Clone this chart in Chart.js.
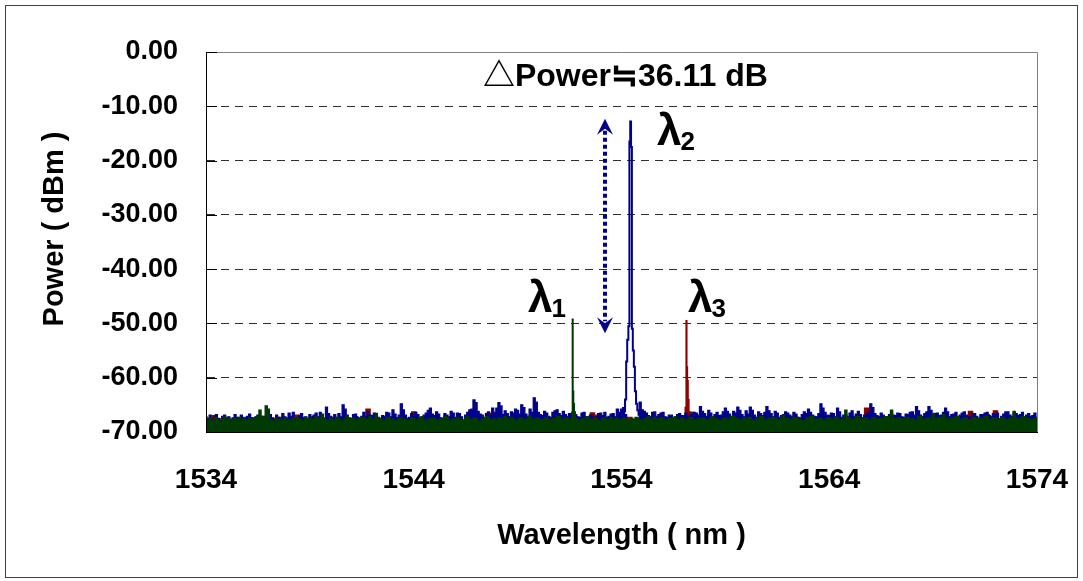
<!DOCTYPE html>
<html><head><meta charset="utf-8">
<script src="https://cdn.jsdelivr.net/npm/chart.js@4/dist/chart.umd.min.js"></script>
<style>html,body{margin:0;padding:0;background:#fff;}#wrap{width:1083px;height:581px;}</style>
</head><body><div id="wrap"><canvas id="c" width="1083" height="581"></canvas></div>
<script>
// ---- data ----
const wlStart = 1534;
const fineStep = 0.1;     // blue & green traces: 1534.0 ... 1574.0 nm
const coarseStep = 0.2;   // red trace: 1534.0 ... 1574.0 nm
const xTicks = [1534, 1544, 1554, 1564, 1574];
const yTicks = [0, -10, -20, -30, -40, -50, -60, -70];
const xTitle = 'Wavelength ( nm )';
const yTitle = 'Power ( dBm )';

const blueNoise = [
-67.2,-67.6,-66.9,-67.8,-67.3,-66.8,-67.5,-68.0,-67.1,-66.9,-67.6,-67.2,-68.1,-67.4,-66.8,-67.3,-67.7,-66.9,-67.5,-67.9,
-67.1,-66.7,-67.4,-68.0,-67.2,-66.9,-67.8,-67.3,-68.2,-67.0,-67.5,-66.8,-67.4,-67.9,-66.9,-67.3,-67.6,-66.6,-67.2,-67.8,
-66.5,-67.1,-66.4,-67.6,-67.9,-67.0,-66.6,-67.3,-67.2,-68.0,-66.8,-67.4,-66.9,-66.5,-67.2,-66.4,-67.5,-67.8,-65.4,-66.6,
-67.1,-67.5,-66.8,-67.9,-66.6,-67.2,-65.0,-65.8,-66.9,-67.4,-67.5,-66.8,-66.7,-67.3,-67.9,-67.1,-66.4,-67.2,-66.3,-66.9,
-67.0,-66.5,-66.6,-67.3,-67.8,-67.0,-67.1,-66.4,-66.5,-67.2,-65.9,-66.7,-67.4,-66.9,-64.8,-65.9,-66.9,-67.5,-67.3,-66.6,
-67.2,-66.4,-66.8,-67.5,-67.6,-66.9,-66.5,-66.0,-65.6,-66.7,-67.0,-66.3,-66.7,-67.4,-67.5,-66.6,-66.9,-67.3,-66.2,-66.5,
-67.3,-66.5,-66.6,-67.2,-67.8,-66.9,-66.4,-65.9,-65.8,-64.1,-64.6,-66.2,-66.7,-66.9,-67.4,-66.6,-66.3,-67.0,-65.6,-66.4,
-65.6,-64.6,-65.2,-66.8,-66.1,-66.6,-67.2,-66.3,-66.5,-65.8,-66.0,-66.7,-65.0,-65.5,-66.7,-67.1,-65.8,-66.4,-63.7,-64.5,
-66.4,-66.8,-67.0,-66.2,-66.5,-67.1,-67.3,-66.4,-66.1,-65.9,-66.6,-67.0,-66.2,-66.8,-67.1,-66.6,-67.5,-66.9,-66.8,-67.2,
-67.3,-66.5,-66.4,-67.2,-67.6,-66.9,-66.9,-67.4,-67.2,-66.6,-66.5,-67.0,-66.4,-67.3,-67.1,-66.7,-66.6,-67.2,-65.8,-66.4,
-65.8,-65.5,-66.8,-68.4,-68.6,-68.5,-68.7,-68.4,-67.9,-64.5,-65.9,-66.2,-66.5,-67.0,-67.2,-66.4,-66.3,-67.1,-66.8,-66.5,
-66.4,-67.2,-67.3,-66.9,-66.9,-67.5,-67.6,-66.8,-66.6,-67.0,-67.1,-66.5,-67.4,-66.9,-66.8,-66.4,-66.5,-66.9,-65.3,-66.2,
-66.6,-67.1,-66.0,-66.5,-67.2,-66.8,-66.4,-67.0,-66.9,-66.3,-65.6,-66.2,-66.7,-67.1,-66.2,-66.5,-65.4,-66.0,-66.8,-67.2,
-66.1,-66.7,-65.4,-66.0,-66.9,-67.3,-66.3,-66.6,-67.0,-66.4,-65.3,-66.1,-66.6,-67.2,-66.2,-66.5,-67.3,-67.0,-66.8,-66.3,
-66.5,-66.9,-67.1,-66.4,-66.7,-67.3,-67.4,-66.8,-66.3,-66.6,-65.8,-66.4,-66.9,-67.1,-67.2,-66.6,-64.8,-65.6,-66.4,-66.9,
-67.0,-66.5,-66.6,-67.2,-65.6,-66.3,-67.3,-66.9,-66.8,-67.2,-66.5,-66.1,-67.1,-66.7,-66.2,-66.8,-67.4,-66.9,-66.7,-66.3,
-64.8,-65.5,-66.6,-67.0,-67.2,-66.5,-66.9,-67.3,-67.5,-66.8,-66.4,-66.9,-67.0,-66.5,-66.6,-67.2,-67.3,-66.7,-66.8,-66.4,
-66.3,-66.9,-65.3,-66.1,-66.9,-67.2,-66.6,-66.3,-65.3,-66.0,-67.1,-66.6,-66.5,-67.0,-66.9,-66.4,-65.6,-66.3,-67.2,-66.8,
-66.7,-66.4,-67.4,-66.9,-66.5,-66.3,-66.9,-67.2,-67.3,-66.6,-66.6,-67.1,-67.5,-66.8,-66.8,-66.5,-66.4,-67.0,-67.1,-66.6,
-66.9,-66.5,-67.6,-67.1,-66.7,-66.3,-66.3,-66.9,-67.2,-66.5,-66.6,-67.0,-66.8,-66.4,-67.4,-66.9,-66.6,-67.1,-67.0,-66.5,
-67.3
];

const greenNoise = [
-67.6,-67.9,-67.4,-68.1,-67.5,-67.3,-67.8,-68.0,-67.6,-67.2,-67.9,-67.5,-68.2,-67.7,-67.4,-67.8,-67.3,-68.0,-67.6,-67.9,
-67.8,-67.4,-67.6,-68.1,-67.5,-67.2,-66.0,-67.1,-67.3,-65.2,-65.8,-67.7,-67.9,-68.0,-67.5,-67.8,-67.6,-67.9,-67.4,-68.1,
-67.7,-68.0,-67.5,-67.9,-67.4,-67.6,-67.8,-68.1,-67.3,-67.7,-67.5,-67.9,-67.6,-67.2,-67.8,-67.4,-66.7,-67.5,-67.9,-68.0,
-67.4,-67.7,-67.8,-67.3,-67.5,-67.9,-68.0,-67.6,-67.2,-67.8,-67.6,-67.4,-67.7,-68.1,-67.4,-67.5,-67.3,-67.8,-67.6,-67.2,
-67.8,-67.5,-66.6,-67.4,-67.5,-67.9,-67.8,-67.3,-67.3,-67.6,-67.7,-68.0,-68.0,-67.5,-67.4,-67.7,-67.6,-67.9,-67.9,-67.4,
-67.5,-67.9,-67.8,-67.3,-67.2,-67.7,-68.1,-67.6,-67.6,-67.4,-67.4,-67.8,-67.9,-67.5,-67.7,-67.2,-67.3,-67.8,-68.0,-67.6,
-67.6,-67.3,-67.5,-67.9,-67.9,-67.4,-67.2,-67.7,-67.8,-67.5,-67.4,-67.9,-68.1,-67.6,-67.6,-67.2,-67.3,-67.8,-67.7,-67.5,
-67.9,-67.4,-67.5,-67.8,-67.2,-67.6,-67.8,-67.3,-67.6,-67.9,-68.0,-67.5,-67.4,-67.7,-67.7,-67.3,-67.1,-67.6,-67.9,-67.4,
-67.5,-67.8,-67.8,-67.4,-67.3,-67.7,-67.9,-67.5,-67.6,-67.2,-67.2,-67.7,-67.8,-67.4,-67.5,-67.9,-67.7,-67.3,-67.4,-67.8,
-67.9,-67.6,-67.5,-67.3,-67.2,-67.7,-67.8,-67.4,-67.6,-67.9,-68.0,-67.5,-67.4,-67.8,-67.7,-67.3,-67.9,-67.6,-67.5,-67.8,
-67.8,-67.4,-67.6,-67.9,-68.1,-67.5,-67.7,-67.3,-67.4,-67.8,-67.9,-67.6,-67.5,-67.2,-67.8,-67.5,-67.3,-67.7,-67.6,-67.4,
-67.4,-67.8,-67.9,-67.5,-67.6,-67.3,-67.2,-67.7,-67.8,-67.4,-67.5,-67.9,-67.7,-67.3,-67.3,-67.8,-67.9,-67.5,-67.6,-67.4,
-67.5,-67.8,-67.8,-67.3,-67.2,-67.6,-67.6,-67.9,-67.9,-67.5,-67.4,-67.7,-67.7,-67.2,-67.1,-67.5,-67.5,-67.9,-67.8,-67.4,
-67.6,-67.3,-67.3,-67.8,-67.9,-67.5,-67.5,-67.2,-67.2,-67.7,-67.7,-67.4,-67.6,-67.3,-67.4,-67.8,-67.8,-67.4,-66.9,-67.5,
-67.5,-67.8,-67.7,-67.3,-67.3,-67.6,-67.6,-67.9,-67.9,-67.4,-67.4,-67.2,-67.2,-67.7,-67.7,-67.5,-67.5,-67.8,-67.8,-67.4,
-67.4,-67.6,-67.6,-67.3,-67.3,-67.8,-67.8,-67.5,-66.0,-67.3,-67.5,-67.7,-67.7,-67.2,-67.2,-67.6,-67.6,-67.4,-67.4,-67.8,
-67.8,-67.3,-67.3,-67.6,-67.6,-67.5,-67.5,-67.2,-67.2,-67.6,-66.0,-67.4,-67.7,-67.4,-67.4,-67.6,-67.6,-67.3,-67.3,-67.7,
-67.5,-67.8,-67.8,-67.2,-67.2,-67.6,-67.6,-67.4,-67.4,-67.8,-66.6,-67.5,-67.7,-67.3,-67.3,-66.8,-67.5,-67.6,-67.8,-67.4,
-67.6,-67.2,-67.2,-67.7,-67.7,-67.4,-67.4,-67.8,-67.8,-67.3,-67.3,-67.5,-67.5,-67.6,-67.6,-67.1,-67.1,-67.7,-67.7,-67.4,
-67.4,-67.6,-67.6,-67.3,-67.3,-67.8,-67.8,-67.5,-67.5,-66.2,-67.4,-67.6,-67.6,-67.2,-67.2,-67.5,-67.5,-67.7,-67.7,-67.5,
-67.4
];

const redNoise = [
-67.5,-67.8,-67.0,-67.6,-67.9,-67.4,-67.7,-68.0,-67.6,-67.3,
-67.8,-67.4,-67.9,-67.6,-67.2,-67.8,-67.5,-68.0,-67.3,-67.7,
-67.4,-67.9,-66.9,-67.6,-67.8,-67.5,-67.2,-67.9,-67.6,-67.4,
-67.8,-67.3,-67.7,-67.9,-67.5,-67.6,-67.2,-67.8,-67.4,-65.8,
-67.7,-67.5,-67.9,-67.3,-67.6,-67.8,-67.4,-67.7,-67.5,-67.9,
-66.3,-67.6,-67.3,-67.8,-67.5,-67.7,-67.4,-67.9,-67.6,-67.2,
-67.7,-67.5,-67.8,-67.4,-67.6,-67.3,-67.9,-67.5,-66.6,-67.7,
-67.6,-67.4,-67.8,-67.5,-67.7,-67.3,-67.9,-67.6,-67.4,-67.8,
-67.5,-67.7,-67.3,-67.9,-67.6,-67.4,-67.8,-67.5,-67.7,-67.3,
-67.6,-67.9,-67.4,-66.5,-66.9,-67.7,-67.3,-67.6,-67.8,-67.5,
-67.4,-67.7,-67.3,-67.9,-67.6,-66.6,-67.5,-67.8,-67.4,-67.7,
-67.3,-67.6,-67.8,-67.4,-67.0,-67.0,-67.2,-66.4,-67.5,-67.8,
-67.6,-67.3,-67.7,-67.5,-67.9,-67.4,-67.6,-67.8,-67.3,-67.7,
-67.5,-67.8,-67.4,-67.6,-67.9,-67.3,-67.7,-67.5,-67.8,-67.4,
-67.6,-67.9,-67.3,-67.7,-67.5,-67.8,-67.4,-67.6,-67.9,-67.5,
-67.7,-67.4,-67.8,-67.6,-67.3,-67.7,-67.5,-67.9,-67.4,-65.6,
-67.6,-67.8,-67.3,-67.7,-67.5,-67.9,-67.4,-67.6,-67.8,-67.3,
-67.7,-67.5,-67.8,-67.4,-67.6,-67.9,-67.3,-67.7,-67.5,-67.8,
-67.4,-67.6,-67.9,-67.3,-66.2,-67.7,-67.5,-67.8,-66.8,-67.6,
-66.1,-67.7,-67.4,-67.8,-67.5,-67.9,-67.3,-67.6,-67.8,-67.4,
-67.6
];

// laser lines [wavelength nm, power dBm]
const greenPeak = [[1551.58,-67.6],[1551.62,-66.4],[1551.65,-49.2],[1551.68,-62.5],[1551.71,-64.8],[1551.75,-66.3],[1551.80,-67.5]];
const bluePeak = [[1554.14,-66.2],[1554.20,-64.0],[1554.25,-57.0],[1554.30,-53.0],[1554.36,-50.5],[1554.40,-16.5],[1554.44,-12.8],[1554.48,-17.5],[1554.52,-51.0],[1554.57,-55.0],[1554.62,-58.0],[1554.67,-62.5],[1554.73,-64.8],[1554.79,-66.0],[1554.85,-66.8]];
const redPeak = [[1557.04,-67.2],[1557.09,-65.5],[1557.13,-49.5],[1557.16,-58.0],[1557.19,-60.5],[1557.22,-64.0],[1557.27,-66.3]];

const annotationText = '△Power≒36.11 dB';
const annotationPos = {wl: 1547.33, db: -6.26};
const lambdaLabels = [
  {sub: '1', wl: 1549.50, db: -47.9},
  {sub: '2', wl: 1555.71, db: -17.1},
  {sub: '3', wl: 1557.20, db: -47.9}
];
const arrowSpan = {wl: 1553.2, top: -12.3, bottom: -51.8};

// ---- build ----
const FONT = "'Liberation Sans', Arial, 'Noto Sans CJK JP', sans-serif";
function toPoints(noise, step) {
  return noise.map((v, i) => ({x: Math.round((wlStart + i * step) * 1000) / 1000, y: v}));
}
function mergePeak(noise, step, peak) {
  const lo = peak[0][0], hi = peak[peak.length - 1][0];
  const pts = toPoints(noise, step).filter(p => p.x < lo - 1e-6 || p.x > hi + 1e-6);
  peak.forEach(p => pts.push({x: p[0], y: p[1]}));
  pts.sort((a, b) => a.x - b.x);
  return pts;
}

const BLUE = '#00008c', GREEN = '#003a00', RED = '#8c0000';

const decor = {
  id: 'decor',
  beforeDraw(chart) {
    const ctx = chart.ctx;
    ctx.save(); ctx.fillStyle = '#fff'; ctx.fillRect(0, 0, chart.width, chart.height); ctx.restore();
  },
  afterDatasetsDraw(chart) {
    const ctx = chart.ctx, a = chart.chartArea, xs = chart.scales.x, ys = chart.scales.y;
    ctx.save();
    ctx.strokeStyle = '#808080'; ctx.lineWidth = 1;
    ctx.beginPath();
    ctx.moveTo(a.left, a.top + 0.5); ctx.lineTo(a.right + 0.5, a.top + 0.5); ctx.lineTo(a.right + 0.5, a.bottom);
    ctx.stroke();
    ctx.strokeStyle = '#000';
    ctx.beginPath();
    ctx.moveTo(a.left + 0.5, a.top); ctx.lineTo(a.left + 0.5, a.bottom + 0.5); ctx.lineTo(a.right, a.bottom + 0.5);
    yTicks.forEach(v => { const y = Math.round(ys.getPixelForValue(v)) + 0.5; ctx.moveTo(a.left, y); ctx.lineTo(a.left + 11, y); });
    ctx.stroke();
    // y axis title
    ctx.fillStyle = '#000';
    ctx.save();
    ctx.translate(55, ys.getPixelForValue(-32.6));
    ctx.rotate(-Math.PI / 2);
    ctx.font = 'bold 29px ' + FONT;
    ctx.textAlign = 'center'; ctx.textBaseline = 'middle';
    ctx.fillText(yTitle, 0, 0);
    ctx.restore();
    // annotation text
    ctx.font = 'bold 32px ' + FONT;
    ctx.textBaseline = 'alphabetic'; ctx.textAlign = 'left';
    ctx.fillText(annotationText, xs.getPixelForValue(annotationPos.wl), ys.getPixelForValue(annotationPos.db));
    // lambda labels
    lambdaLabels.forEach(l => {
      const x = xs.getPixelForValue(l.wl), y = ys.getPixelForValue(l.db);
      ctx.font = 'bold 44px ' + FONT;
      ctx.fillText('λ', x, y);
      const w = ctx.measureText('λ').width;
      ctx.font = 'bold 26px ' + FONT;
      ctx.fillText(l.sub, x + w - 1, y + 5);
    });
    // dotted double arrow
    const ax = Math.round(xs.getPixelForValue(arrowSpan.wl));
    const yt = ys.getPixelForValue(arrowSpan.top), yb = ys.getPixelForValue(arrowSpan.bottom);
    ctx.strokeStyle = BLUE; ctx.fillStyle = BLUE; ctx.lineWidth = 4;
    ctx.setLineDash([4, 3]);
    ctx.beginPath(); ctx.moveTo(ax, yt + 12); ctx.lineTo(ax, yb - 12); ctx.stroke();
    ctx.setLineDash([]);
    const head = (tipY, dir) => {
      ctx.beginPath();
      ctx.moveTo(ax, tipY);
      ctx.lineTo(ax - 8, tipY + dir * 16);
      ctx.lineTo(ax, tipY + dir * 10);
      ctx.lineTo(ax + 8, tipY + dir * 16);
      ctx.closePath(); ctx.fill();
    };
    head(yt, 1); head(yb, -1);
    ctx.restore();
  },
  afterDraw(chart) {
    const ctx = chart.ctx;
    ctx.save(); ctx.strokeStyle = '#404040'; ctx.lineWidth = 1;
    ctx.strokeRect(5.5, 5.5, 1072, 572); ctx.restore();
  }
};

new Chart(document.getElementById('c'), {
  type: 'line',
  data: {
    datasets: [
      {label: 'λ1', data: mergePeak(greenNoise, fineStep, greenPeak), borderColor: GREEN, backgroundColor: GREEN, borderWidth: 1.4, fill: 'start', stepped: 'middle', order: 0},
      {label: 'λ2 line', data: bluePeak.map(p => ({x: p[0], y: p[1]})), borderColor: BLUE, borderWidth: 2, fill: false, stepped: 'middle', order: 1},
      {label: 'λ2', data: toPoints(blueNoise, fineStep), borderColor: BLUE, backgroundColor: BLUE, borderWidth: 1.2, fill: 'start', stepped: 'middle', order: 2},
      {label: 'λ3', data: mergePeak(redNoise, coarseStep, redPeak), borderColor: RED, backgroundColor: RED, borderWidth: 1.4, fill: 'start', stepped: 'middle', order: 3}
    ]
  },
  options: {
    responsive: false, animation: false, devicePixelRatio: 1,
    layout: {padding: {left: 0, top: 52, right: 46, bottom: 0}},
    plugins: {legend: {display: false}, tooltip: {enabled: false}},
    elements: {point: {radius: 0}, line: {tension: 0}},
    scales: {
      x: {
        type: 'linear', min: 1534, max: 1574,
        afterFit: s => { s.height = 149; },
        afterBuildTicks: s => { s.ticks = xTicks.map(v => ({value: v})); },
        ticks: {font: {family: FONT, size: 28, weight: 'bold'}, color: '#000', padding: 0, maxRotation: 0, autoSkip: false, callback: v => String(v)},
        grid: {display: false, drawTicks: true, tickLength: 31},
        border: {display: true, color: '#000', width: 1},
        title: {display: true, text: xTitle, color: '#000', font: {family: FONT, size: 29, weight: 'bold'}, padding: {top: 0, bottom: 28}}
      },
      y: {
        min: -70, max: 0,
        afterFit: s => { s.width = 206; },
        afterBuildTicks: s => { s.ticks = yTicks.map(v => ({value: v})); },
        ticks: {font: {family: FONT, size: 27, weight: 'bold'}, color: '#000', padding: 28, autoSkip: false, callback: v => Number(v).toFixed(2)},
        grid: {drawTicks: false, lineWidth: 1, color: c => (c.tick && (c.tick.value === 0 || c.tick.value === -70)) ? 'rgba(0,0,0,0)' : '#303030'},
        border: {display: true, color: '#000', width: 1, dash: [8, 6]},
        title: {display: false}
      }
    }
  },
  plugins: [decor]
});
</script>
</body></html>
